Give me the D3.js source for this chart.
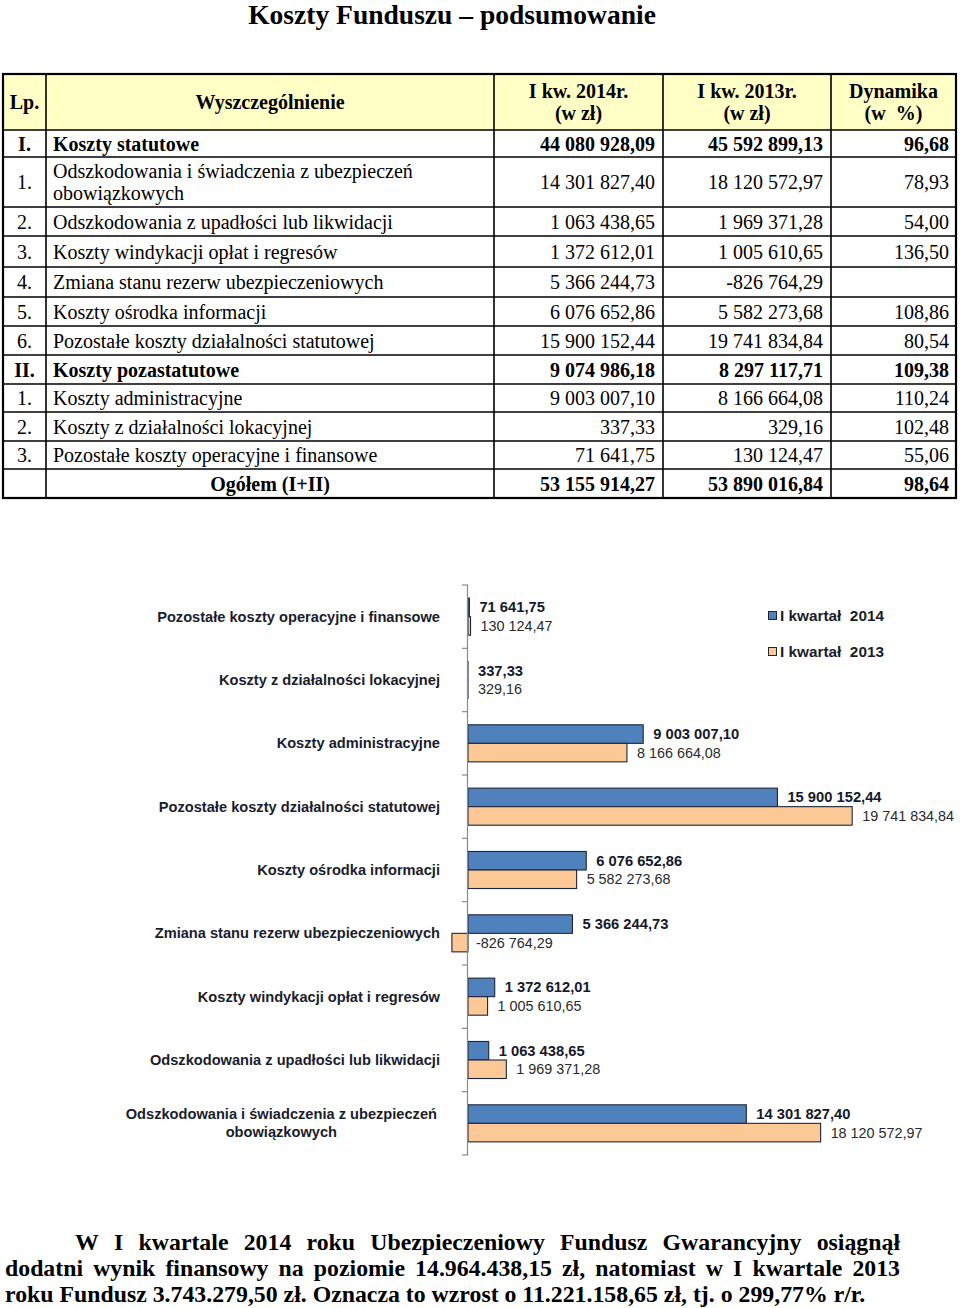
<!DOCTYPE html>
<html><head><meta charset="utf-8">
<script src="https://cdn.jsdelivr.net/npm/d3@7"></script>
<style>body{margin:0;background:#fff}svg{display:block}</style>
</head><body>
<svg id="c" width="960" height="1308"></svg>
<script>
// ---------- DATA ----------
const title = "Koszty Funduszu – podsumowanie";
const tableHeaders = [["Lp."], ["Wyszczególnienie"], ["I kw. 2014r.", "(w zł)"], ["I kw. 2013r.", "(w zł)"], ["Dynamika", "(w  %)"]];
const rowLp = ["I.", "1.", "2.", "3.", "4.", "5.", "6.", "II.", "1.", "2.", "3.", ""];
const rowNames = ["Koszty statutowe", "Odszkodowania i świadczenia z ubezpieczeń|obowiązkowych",
  "Odszkodowania z upadłości lub likwidacji", "Koszty windykacji opłat i regresów",
  "Zmiana stanu rezerw ubezpieczeniowych", "Koszty ośrodka informacji",
  "Pozostałe koszty działalności statutowej", "Koszty pozastatutowe", "Koszty administracyjne",
  "Koszty z działalności lokacyjnej", "Pozostałe koszty operacyjne i finansowe", "Ogółem (I+II)"];
const row2014 = ["44 080 928,09", "14 301 827,40", "1 063 438,65", "1 372 612,01", "5 366 244,73", "6 076 652,86",
  "15 900 152,44", "9 074 986,18", "9 003 007,10", "337,33", "71 641,75", "53 155 914,27"];
const row2013 = ["45 592 899,13", "18 120 572,97", "1 969 371,28", "1 005 610,65", "-826 764,29", "5 582 273,68",
  "19 741 834,84", "8 297 117,71", "8 166 664,08", "329,16", "130 124,47", "53 890 016,84"];
const rowDyn = ["96,68", "78,93", "54,00", "136,50", "", "108,86", "80,54", "109,38", "110,24", "102,48", "55,06", "98,64"];
const boldRows = [0, 7, 11];

const categories = ["Pozostałe koszty operacyjne i finansowe", "Koszty z działalności lokacyjnej",
  "Koszty administracyjne", "Pozostałe koszty działalności statutowej", "Koszty ośrodka informacji",
  "Zmiana stanu rezerw ubezpieczeniowych", "Koszty windykacji opłat i regresów",
  "Odszkodowania z upadłości lub likwidacji", "Odszkodowania i świadczenia z ubezpieczeń|obowiązkowych"];
const values2014 = [71641.75, 337.33, 9003007.10, 15900152.44, 6076652.86, 5366244.73, 1372612.01, 1063438.65, 14301827.40];
const values2013 = [130124.47, 329.16, 8166664.08, 19741834.84, 5582273.68, -826764.29, 1005610.65, 1969371.28, 18120572.97];
const seriesNames = ["I kwartał  2014", "I kwartał  2013"];

const paragraph = [
  "W I kwartale 2014 roku Ubezpieczeniowy Fundusz Gwarancyjny osiągnął",
  "dodatni wynik finansowy na poziomie 14.964.438,15 zł, natomiast w I kwartale 2013",
  "roku Fundusz 3.743.279,50 zł. Oznacza to wzrost o 11.221.158,65 zł, tj. o 299,77% r/r."
];

// ---------- SETUP ----------
const svg = d3.select("#c");
const SERIF = "'Liberation Serif','Times New Roman',serif";
const SANS = "'Liberation Sans',Arial,sans-serif";

function sizeFor(str, family, weight, base, target) {
  const p = svg.append("text").attr("font-family", family).attr("font-weight", weight)
    .attr("font-size", base).style("white-space", "pre").text(str);
  const w = p.node().getComputedTextLength();
  p.remove();
  return base * target / w;
}

// Title
svg.append("text").attr("x", 452).attr("y", 24).attr("text-anchor", "middle")
  .attr("font-family", SERIF).attr("font-weight", "bold")
  .attr("font-size", sizeFor(title, SERIF, "bold", 26, 408)).attr("fill", "#000").text(title);

// ---------- TABLE ----------
const colX = [3, 46, 494, 663, 831, 956];
const rowY = [74, 130, 157, 207, 236, 267, 297, 326, 355, 384, 412, 441, 469, 498];
const tbl = svg.append("g");
tbl.append("rect").attr("x", colX[0]).attr("y", rowY[0]).attr("width", colX[5] - colX[0]).attr("height", rowY[1] - rowY[0])
  .attr("fill", "#FFFFC6");
tableHeaders.forEach((lines, i) => {
  const cx = (colX[i] + colX[i + 1]) / 2, cy = (rowY[0] + rowY[1]) / 2;
  lines.forEach((ln, j) => {
    tbl.append("text").attr("x", cx).attr("y", cy + 7 + (lines.length === 2 ? (j === 0 ? -11 : 11) : 0))
      .attr("text-anchor", "middle").attr("font-family", SERIF).attr("font-weight", "bold").attr("font-size", 20)
      .style("white-space", "pre").text(ln);
  });
});
rowLp.forEach((lp, i) => {
  const y0 = rowY[i + 1], y1 = rowY[i + 2], cy = (y0 + y1) / 2;
  const bold = boldRows.includes(i) ? "bold" : "normal";
  const txt = (x, y, anchor, s) => tbl.append("text").attr("x", x).attr("y", y).attr("text-anchor", anchor)
    .attr("font-family", SERIF).attr("font-weight", bold).attr("font-size", 20).attr("fill", "#000").text(s);
  txt((colX[0] + colX[1]) / 2, cy + 7, "middle", lp);
  const nm = rowNames[i].split("|");
  if (i === rowLp.length - 1) {
    txt((colX[1] + colX[2]) / 2, cy + 7, "middle", nm[0]);
  } else if (nm.length === 2) {
    txt(colX[1] + 7, cy - 4, "start", nm[0]);
    txt(colX[1] + 7, cy + 18, "start", nm[1]);
  } else {
    txt(colX[1] + 7, cy + 7, "start", nm[0]);
  }
  txt(colX[3] - 8, cy + 7, "end", row2014[i]);
  txt(colX[4] - 8, cy + 7, "end", row2013[i]);
  txt(colX[5] - 7, cy + 7, "end", rowDyn[i]);
});
rowY.slice(1, -1).forEach(y => tbl.append("line").attr("x1", colX[0]).attr("x2", colX[5]).attr("y1", y).attr("y2", y)
  .attr("stroke", "#000").attr("stroke-width", 1.6));
colX.slice(1, -1).forEach(x => tbl.append("line").attr("x1", x).attr("x2", x).attr("y1", rowY[0]).attr("y2", rowY[rowY.length - 1])
  .attr("stroke", "#000").attr("stroke-width", 1.6));
tbl.append("rect").attr("x", colX[0]).attr("y", rowY[0]).attr("width", colX[5] - colX[0]).attr("height", rowY[rowY.length - 1] - rowY[0])
  .attr("fill", "none").attr("stroke", "#000").attr("stroke-width", 2.2);

// ---------- CHART ----------
const chart = svg.append("g");
const x = d3.scaleLinear().domain([0, 20e6]).range([468, 468 + 20 * 19.46]);
const y0 = d3.scaleBand().domain(categories).range([585, 1155]).paddingInner(0.415).paddingOuter(0.2075);
const y1 = d3.scaleBand().domain(["2014", "2013"]).range([0, y0.bandwidth()]);
const fills = { "2014": "#4F81BD", "2013": "#FBC896" };
const locale = d3.formatLocale({ decimal: ",", thousands: " ", grouping: [3], currency: ["", ""], minus: "-" });
const fmt = locale.format(",.2f");

const catSize = sizeFor(categories[0], SANS, "bold", 13, 283);
const lblBold = sizeFor(fmt(values2014[2]), SANS, "bold", 13, 86);
const lblReg = sizeFor(fmt(values2013[3]), SANS, "normal", 13, 92);
const legSize = sizeFor(seriesNames[0], SANS, "bold", 14, 104);

const data = [];
categories.forEach((c, i) => {
  data.push({ c, s: "2014", v: values2014[i] });
  data.push({ c, s: "2013", v: values2013[i] });
});

chart.selectAll("rect.bar").data(data).join("rect").attr("class", "bar")
  .attr("x", d => x(Math.min(0, d.v))).attr("width", d => Math.abs(x(d.v) - x(0)))
  .attr("y", d => y0(d.c) + y1(d.s)).attr("height", y1.bandwidth())
  .attr("fill", d => fills[d.s]).attr("stroke", "#1d2538").attr("stroke-width", 1.1);

chart.selectAll("text.lbl").data(data).join("text").attr("class", "lbl")
  .attr("x", d => x(Math.max(0, d.v)) + (d.v < 0 ? 8 : 10))
  .attr("y", d => y0(d.c) + y1(d.s) + y1.bandwidth() / 2 + 5)
  .attr("font-family", SANS).attr("font-size", d => d.s === "2014" ? lblBold : lblReg)
  .attr("font-weight", d => d.s === "2014" ? "bold" : "normal")
  .attr("fill", d => d.s === "2014" ? "#16192a" : "#2a2a2a")
  .text(d => fmt(d.v));

// category axis
const halfGap = y0.step() * y0.paddingInner() / 2;
chart.append("line").attr("x1", x(0) - 0.5).attr("x2", x(0) - 0.5).attr("y1", 585).attr("y2", 1155)
  .attr("stroke", "#8a8a8a").attr("stroke-width", 1.2);
const tickYs = categories.map(c => y0(c) - halfGap).concat([y0(categories[categories.length - 1]) + y0.bandwidth() + halfGap]);
chart.selectAll("line.tick").data(tickYs).join("line").attr("class", "tick")
  .attr("x1", x(0) - 6).attr("x2", x(0)).attr("y1", d => d).attr("y2", d => d)
  .attr("stroke", "#8a8a8a").attr("stroke-width", 1.2);

// category labels
categories.forEach(c => {
  const lines = c.split("|");
  const cy = y0(c) + y0.bandwidth() / 2;
  const g = chart.append("g");
  const texts = lines.map((ln, j) => g.append("text")
    .attr("y", cy + 5 + (lines.length === 2 ? (j === 0 ? -9 : 9) : 0))
    .attr("font-family", SANS).attr("font-weight", "bold").attr("font-size", catSize).attr("fill", "#1a1d2c")
    .text(ln));
  if (lines.length === 1) {
    texts[0].attr("x", 440).attr("text-anchor", "end");
  } else {
    const W = d3.max(texts, t => t.node().getComputedTextLength());
    texts.forEach(t => t.attr("x", 437 - W / 2).attr("text-anchor", "middle"));
  }
});

// legend
seriesNames.forEach((n, i) => {
  const ly = 616 + i * 36;
  chart.append("rect").attr("x", 768.5).attr("y", ly - 4.5).attr("width", 8).attr("height", 8)
    .attr("fill", fills[i === 0 ? "2014" : "2013"]).attr("stroke", "#1d2538").attr("stroke-width", 1);
  chart.append("text").attr("x", 780).attr("y", ly + 5).attr("font-family", SANS).attr("font-weight", "bold")
    .attr("font-size", legSize).attr("fill", "#1a1d2c").style("white-space", "pre").text(n);
});

// ---------- PARAGRAPH ----------
const para = svg.append("g").attr("font-family", SERIF).attr("font-weight", "bold").attr("fill", "#000");
const fsP = sizeFor(paragraph[2], SERIF, "bold", 22, 861);
const lineDefs = [{ x0: 75, x1: 900, y: 1250, justify: true }, { x0: 5, x1: 900, y: 1276, justify: true }, { x0: 5, x1: 866, y: 1302, justify: false }];
paragraph.forEach((ln, i) => {
  const L = lineDefs[i];
  if (!L.justify) {
    para.append("text").attr("x", L.x0).attr("y", L.y).attr("font-size", fsP).text(ln);
    return;
  }
  const words = ln.split(" ");
  const ts = words.map(w => para.append("text").attr("y", L.y).attr("font-size", fsP).text(w));
  const ws = ts.map(t => t.node().getComputedTextLength());
  const gap = (L.x1 - L.x0 - d3.sum(ws)) / (words.length - 1);
  let cx = L.x0;
  ts.forEach((t, k) => { t.attr("x", cx); cx += ws[k] + gap; });
});
</script>
</body></html>
